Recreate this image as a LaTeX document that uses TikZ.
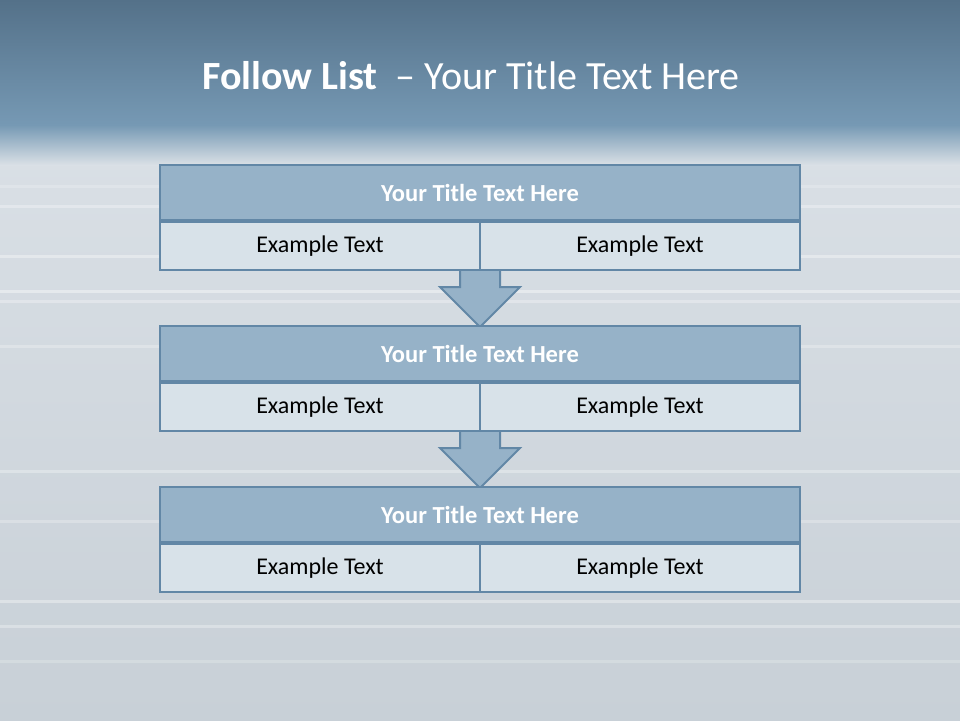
\documentclass[tikz,border=0pt]{standalone}
\usepackage{fontspec}
\setmainfont{Carlito}
\usetikzlibrary{positioning}
\definecolor{bordc}{RGB}{98,135,166}
\definecolor{headc}{RGB}{150,178,200}
\definecolor{cellc}{RGB}{216,226,233}
\definecolor{topA}{RGB}{84,113,137}
\definecolor{topB}{RGB}{118,153,180}
\definecolor{silA}{RGB}{218,224,230}
\definecolor{silB}{RGB}{200,208,215}
\tikzset{
  headbox/.style={draw=bordc, fill=headc, line width=2pt, minimum width=640pt, minimum height=55pt, inner sep=0pt, text=white, font=\fontsize{24.5}{28}\selectfont\bfseries},
  cellbox/.style={draw=bordc, fill=cellc, line width=2pt, minimum width=320pt, minimum height=48pt, inner sep=0pt, text=black, font=\fontsize{24}{28}\selectfont},
  downarrow/.style={draw=bordc, fill=headc, line width=2pt, line join=miter}
}
\begin{document}
\begin{tikzpicture}[x=1pt,y=-1pt]
\useasboundingbox (0,0) rectangle (960,720);
% background
\shade[top color=silA, bottom color=silB] (0,120) rectangle (960,720);
\shade[top color=topA, bottom color=topB] (0,0) rectangle (960,125);
\shade[top color=topB, bottom color=silA] (0,125) rectangle (960,165);
\foreach \yy/\op in {185/0.2,205/0.3,255/0.35,290/0.4,300/0.3,345/0.25,470/0.3,520/0.25,600/0.35,625/0.3,660/0.2} {
  \fill[white, opacity=\op] (0,\yy) rectangle (960,\yy+3);
}
% title
\node[anchor=west, text=white, font=\fontsize{40}{46}\selectfont, inner sep=0pt] (title) at (202,76) {\textbf{Follow List}\ \ – Your Title Text Here};
% arrows (drawn first, boxes on top)
\foreach \ya/\yb in {271/327,432/488} {
  \draw[downarrow] (460,\ya-2) -- (460,\ya+16) -- (440,\ya+16) -- (480,\yb) -- (520,\ya+16) -- (500,\ya+16) -- (500,\ya-2);
}
% boxes
\foreach \i/\yt in {1/164,2/325,3/486} {
  \node[headbox, anchor=north west] (h\i) at (159,\yt) {Your Title Text Here};
  \node[cellbox, anchor=north west] (l\i) at (h\i.south west) {Example Text};
  \node[cellbox, anchor=north east] (r\i) at (h\i.south east) {Example Text};
}
\end{tikzpicture}
\end{document}
